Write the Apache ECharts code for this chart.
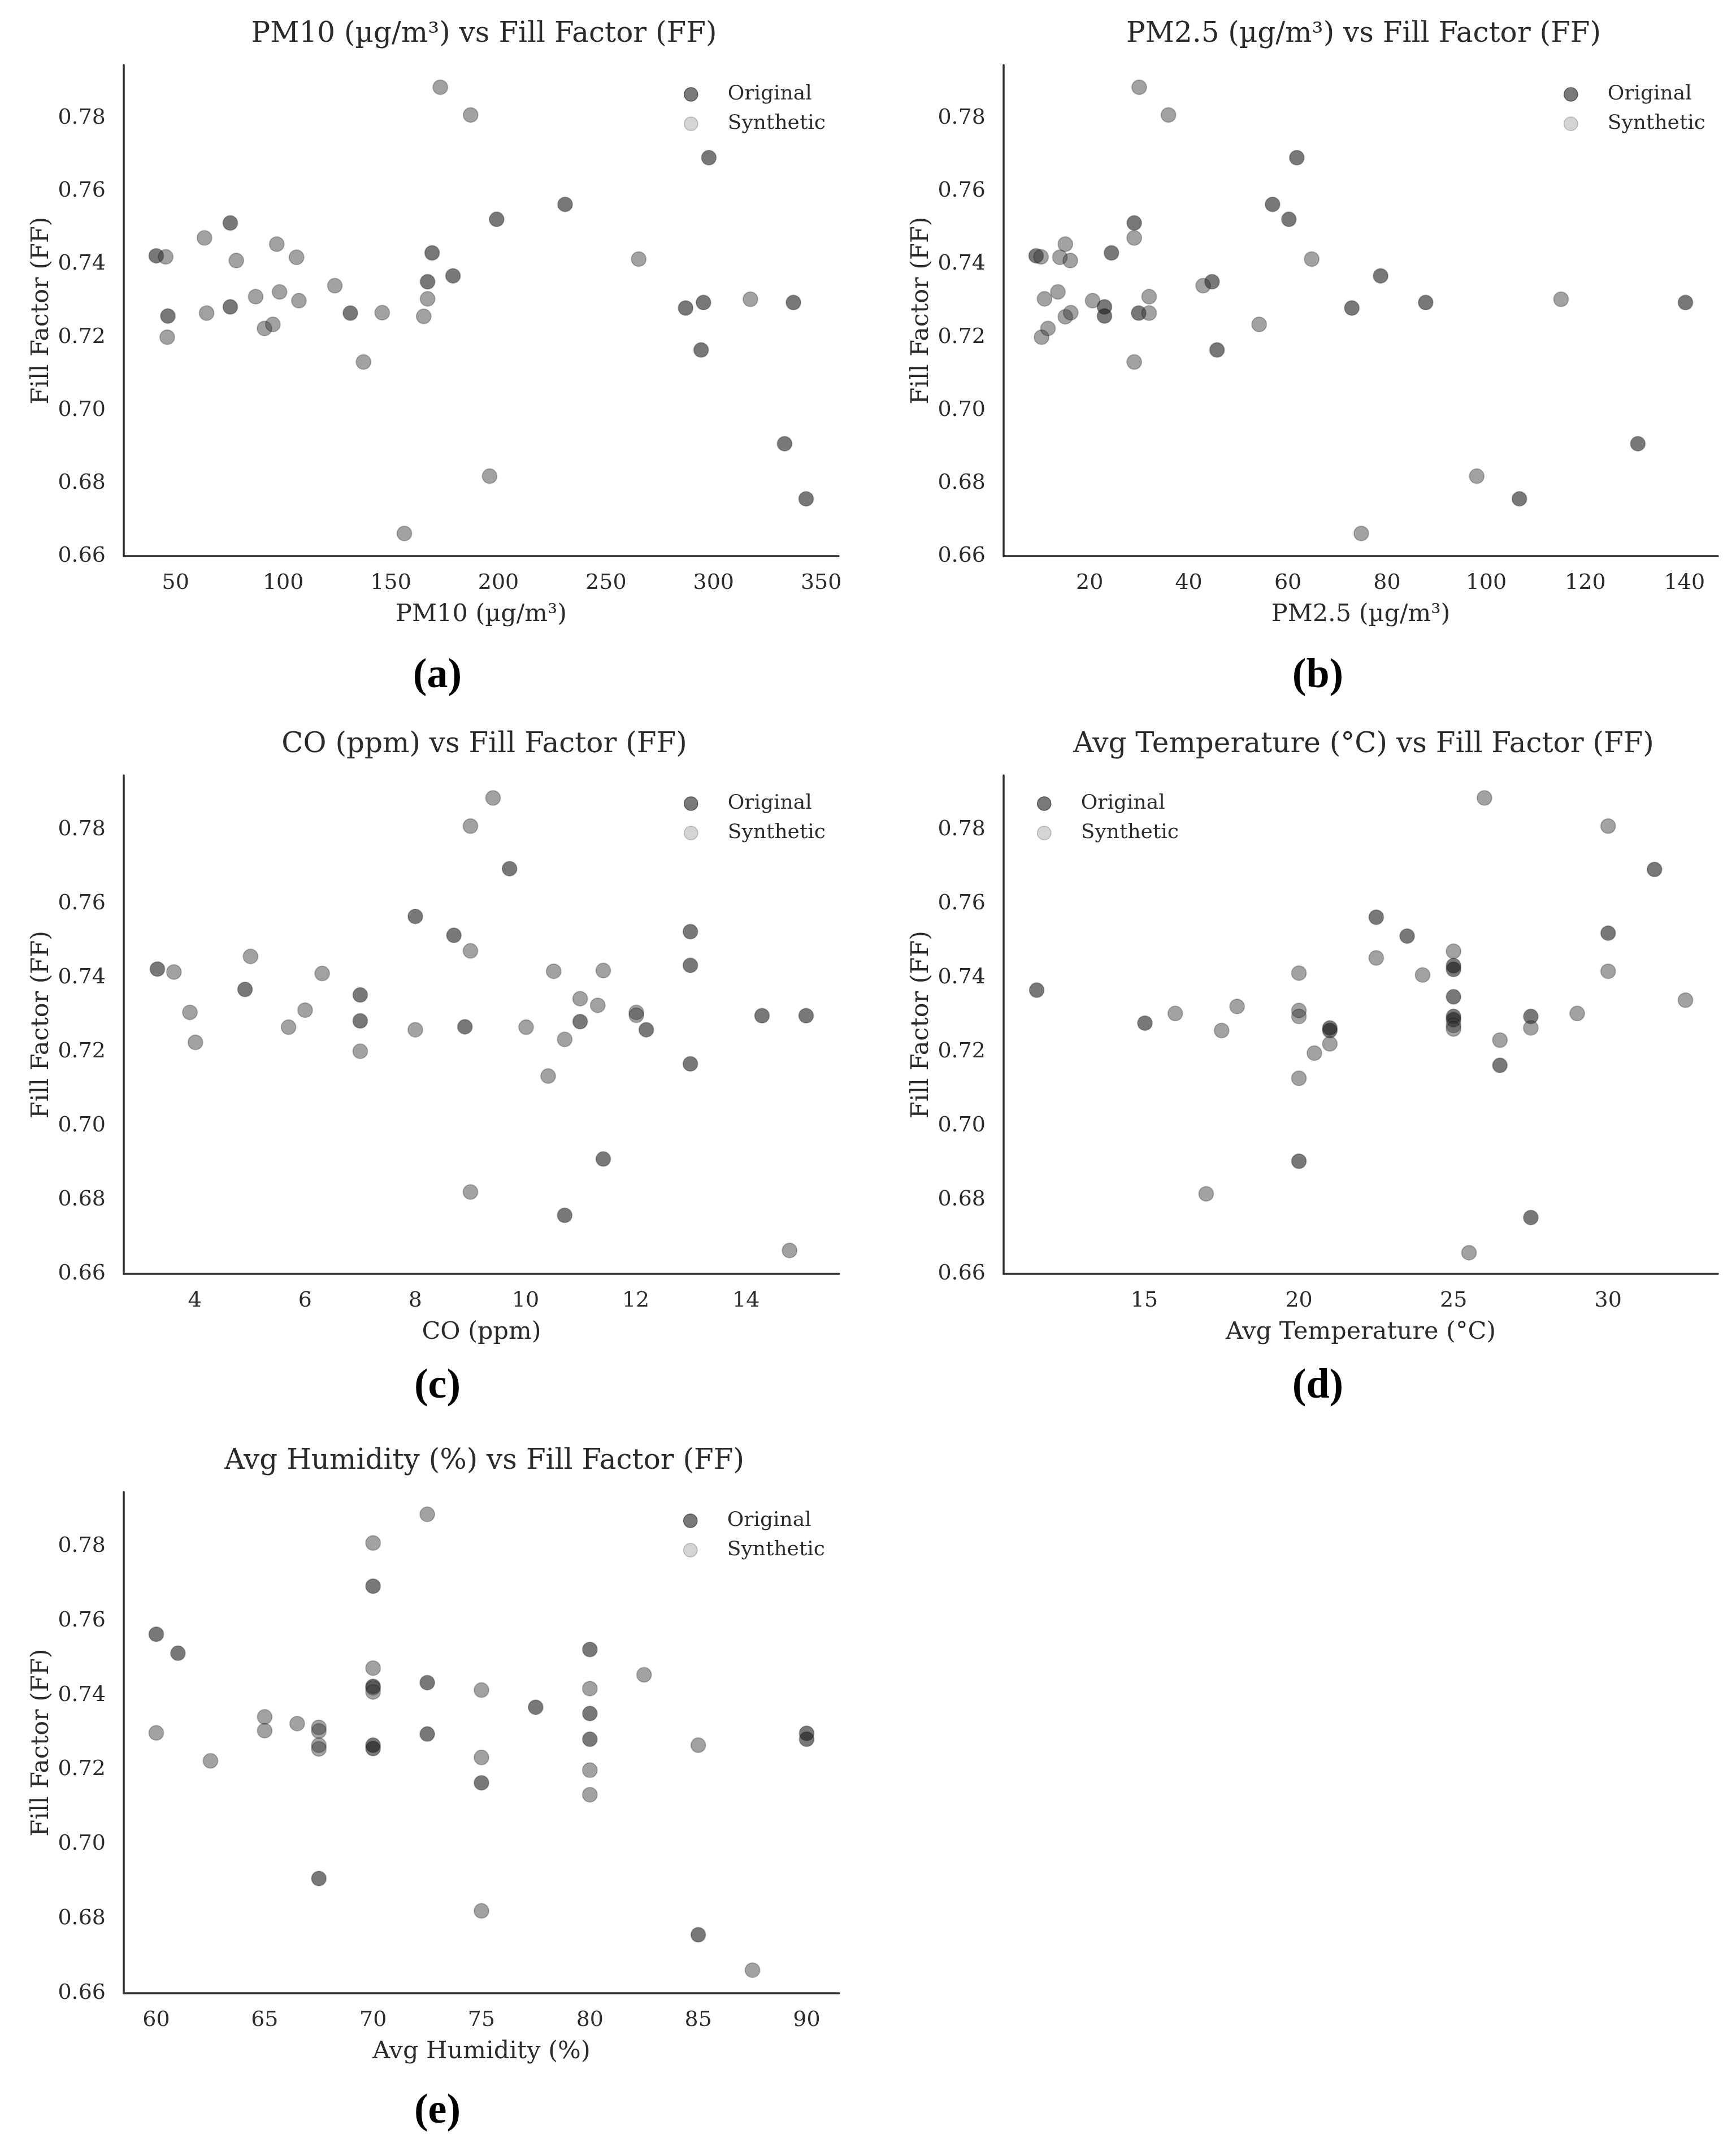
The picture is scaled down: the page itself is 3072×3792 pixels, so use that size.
<!DOCTYPE html>
<html>
<head>
<meta charset="utf-8">
<title>Fill Factor vs environmental variables</title>
<script src="https://cdn.jsdelivr.net/npm/echarts@6.0.0/dist/echarts.min.js"></script>
<style>
html,body{margin:0;padding:0;background:#fff;}
#main{width:3072px;height:3792px;}
</style>
</head>
<body>
<div id="main"></div>
<script>
var FONT = "'DejaVu Serif', serif";
var TXT = '#2b2b2b';

// ---- data: [x, FF] ----
var pm10Original = [[41.0,0.7423],[46.4,0.7258],[75.4,0.7513],[75.4,0.7283],[131.2,0.7266],[167.1,0.7352],[169.2,0.7431],[178.9,0.7368],[199.2,0.7523],[231.0,0.7564],[297.8,0.7692],[287.0,0.7280],[295.3,0.7295],[294.2,0.7165],[337.1,0.7295],[333.0,0.6908],[343.0,0.6757]];
var pm10Synthetic = [[45.4,0.7420],[46.1,0.7200],[63.4,0.7472],[64.4,0.7266],[78.2,0.7410],[87.2,0.7311],[91.3,0.7224],[95.2,0.7235],[97.0,0.7455],[98.3,0.7324],[106.2,0.7419],[107.3,0.7300],[124.0,0.7341],[137.3,0.7132],[146.0,0.7267],[156.3,0.6662],[165.3,0.7257],[167.1,0.7305],[173.0,0.7885],[187.1,0.7809],[195.9,0.6819],[265.2,0.7414],[317.1,0.7304]];

var pm25Original = [[9.2,0.7423],[23.0,0.7283],[23.0,0.7258],[24.4,0.7431],[29.0,0.7513],[29.9,0.7266],[44.7,0.7352],[45.7,0.7165],[56.9,0.7564],[60.2,0.7523],[61.8,0.7692],[72.9,0.7280],[78.7,0.7368],[87.8,0.7295],[106.7,0.6757],[130.6,0.6908],[140.2,0.7295]];
var pm25Synthetic = [[10.2,0.7420],[10.3,0.7200],[10.9,0.7305],[11.6,0.7224],[13.6,0.7324],[14.0,0.7419],[15.1,0.7455],[15.1,0.7256],[16.1,0.7410],[16.2,0.7267],[20.6,0.7300],[29.0,0.7472],[29.0,0.7132],[30.0,0.7885],[32.0,0.7311],[32.0,0.7266],[35.9,0.7809],[42.9,0.7341],[54.2,0.7235],[64.8,0.7414],[74.8,0.6662],[98.1,0.6819],[115.1,0.7304]];

var coOriginal = [[3.32,0.7423],[4.91,0.7368],[7.0,0.7353],[7.0,0.7283],[8.0,0.7565],[8.7,0.7514],[8.9,0.7267],[9.71,0.7694],[10.99,0.7281],[11.41,0.6910],[10.71,0.6758],[12.19,0.7259],[12.99,0.7524],[12.99,0.7433],[12.99,0.7167],[14.29,0.7297],[15.09,0.7297]];
var coSynthetic = [[3.62,0.7415],[3.91,0.7306],[4.01,0.7225],[5.01,0.7457],[5.7,0.7266],[6.0,0.7312],[6.31,0.7411],[7.0,0.7201],[8.0,0.7259],[9.0,0.7809],[9.0,0.7472],[9.41,0.7885],[9.0,0.6821],[10.01,0.7266],[10.51,0.7417],[10.71,0.7233],[10.41,0.7134],[10.99,0.7343],[11.31,0.7325],[11.41,0.7419],[12.01,0.7306],[12.01,0.7298],[14.79,0.6663]];

var tempOriginal = [[11.52,0.7366],[15.02,0.7277],[20.0,0.6904],[21.0,0.7264],[21.0,0.7257],[22.5,0.7563],[23.5,0.7512],[25.0,0.7432],[25.0,0.7422],[25.0,0.7348],[25.0,0.7295],[25.0,0.7286],[26.5,0.7163],[27.5,0.7295],[27.5,0.6752],[30.0,0.7520],[31.5,0.7692]];
var tempSynthetic = [[16.0,0.7303],[17.5,0.7257],[18.0,0.7322],[17.0,0.6816],[20.0,0.7412],[20.0,0.7311],[20.0,0.7295],[20.0,0.7128],[20.5,0.7196],[21.0,0.7221],[22.5,0.7453],[24.0,0.7407],[25.0,0.7471],[25.0,0.7271],[25.0,0.7261],[26.0,0.7885],[25.5,0.6657],[26.5,0.7231],[27.5,0.7264],[29.0,0.7303],[30.0,0.7809],[30.0,0.7417],[32.5,0.7339]];

var humOriginal = [[60.0,0.7564],[61.0,0.7513],[67.5,0.6908],[70.0,0.7693],[70.0,0.7424],[70.0,0.7266],[70.0,0.7257],[72.5,0.7434],[72.5,0.7296],[75.0,0.7165],[77.5,0.7368],[80.0,0.7523],[80.0,0.7351],[80.0,0.7282],[85.0,0.6757],[90.0,0.7298],[90.0,0.7282]];
var humSynthetic = [[60.0,0.7299],[62.5,0.7224],[65.0,0.7342],[65.0,0.7305],[66.5,0.7324],[67.5,0.7314],[67.5,0.7304],[67.5,0.7266],[67.5,0.7256],[70.0,0.7809],[70.0,0.7473],[70.0,0.7420],[70.0,0.7409],[72.5,0.7886],[75.0,0.7414],[75.0,0.7233],[75.0,0.6821],[80.0,0.7418],[80.0,0.7199],[80.0,0.7133],[82.5,0.7455],[85.0,0.7266],[87.5,0.6662]];

// ---- tick labels ----
var ffTicks = [0.66, 0.68, 0.70, 0.72, 0.74, 0.76, 0.78];
var pm10Ticks = [50, 100, 150, 200, 250, 300, 350];
var pm25Ticks = [20, 40, 60, 80, 100, 120, 140];
var coTicks = [4, 6, 8, 10, 12, 14];
var tempTicks = [15, 20, 25, 30];
var humTicks = [60, 65, 70, 75, 80, 85, 90];

// ---- layout of the five panels ----
var panels = [
  {title: 'PM10 (µg/m³) vs Fill Factor (FF)', xName: 'PM10 (µg/m³)', tag: '(a)',
   orig: pm10Original, syn: pm10Synthetic, xr: [25.9, 358.1], ticks: pm10Ticks,
   box: [219, 115, 1265, 869], leg: [1205, 142], tagPos: [769, 1155]},
  {title: 'PM2.5 (µg/m³) vs Fill Factor (FF)', xName: 'PM2.5 (µg/m³)', tag: '(b)',
   orig: pm25Original, syn: pm25Synthetic, xr: [2.65, 146.75], ticks: pm25Ticks,
   box: [1776, 115, 1264, 869], leg: [2762, 142], tagPos: [2327, 1155]},
  {title: 'CO (ppm) vs Fill Factor (FF)', xName: 'CO (ppm)', tag: '(c)',
   orig: coOriginal, syn: coSynthetic, xr: [2.71, 15.69], ticks: coTicks,
   box: [219, 1372, 1266, 882], leg: [1205, 1397], tagPos: [769, 2412]},
  {title: 'Avg Temperature (°C) vs Fill Factor (FF)', xName: 'Avg Temperature (°C)', tag: '(d)',
   orig: tempOriginal, syn: tempSynthetic, xr: [10.45, 33.55], ticks: tempTicks,
   box: [1776, 1372, 1264, 882], leg: [1830, 1397], tagPos: [2327, 2412]},
  {title: 'Avg Humidity (%) vs Fill Factor (FF)', xName: 'Avg Humidity (%)', tag: '(e)',
   orig: humOriginal, syn: humSynthetic, xr: [58.5, 91.5], ticks: humTicks,
   box: [219, 2640, 1266, 887], leg: [1204, 2666], tagPos: [769, 3695]}
];

var option = {
  backgroundColor: '#ffffff',
  animation: false,
  title: [], legend: [], grid: [], xAxis: [], yAxis: [], series: []
};

panels.forEach(function(p, i){
  var b = p.box;
  option.grid.push({left: b[0], top: b[1], width: b[2], height: b[3], containLabel: false});
  option.title.push({
    text: p.title, left: b[0] + b[2] / 2, top: b[1] - 84, textAlign: 'center',
    textStyle: {fontFamily: FONT, fontSize: 50, fontWeight: 'normal', color: TXT}
  });
  option.title.push({
    text: p.tag, left: p.tagPos[0], top: p.tagPos[1], textAlign: 'center',
    textStyle: {fontFamily: "'Liberation Serif', 'Times New Roman', serif", fontSize: 74, fontWeight: 'bold', color: '#000'}
  });
  option.legend.push({
    orient: 'vertical', left: p.leg[0], top: p.leg[1],
    itemWidth: 24, itemHeight: 24, itemGap: 12, icon: 'circle',
    textStyle: {fontFamily: FONT, fontSize: 36, color: TXT, lineHeight: 40, padding: [0, 0, 0, 48]},
    data: [
      {name: 'Original', itemStyle: {color: '#575757', borderColor: '#404040', borderWidth: 1.5}},
      {name: 'Synthetic', itemStyle: {color: '#c9c9c9', borderColor: '#a6a6a6', borderWidth: 1.5}}
    ]
  });
  option.xAxis.push({
    type: 'value', gridIndex: i, min: p.xr[0], max: p.xr[1],
    name: p.xName, nameLocation: 'middle', nameGap: 82,
    nameTextStyle: {fontFamily: FONT, fontSize: 43, color: TXT},
    axisLine: {show: true, onZero: false, lineStyle: {color: '#2e2e2e', width: 3.5}},
    axisTick: {show: false},
    splitLine: {show: false},
    axisLabel: {customValues: p.ticks, margin: 29, fontFamily: FONT, fontSize: 38, color: TXT}
  });
  option.yAxis.push({
    type: 'value', gridIndex: i, min: 0.66, max: 0.7946,
    name: 'Fill Factor (FF)', nameLocation: 'middle', nameGap: 124,
    nameTextStyle: {fontFamily: FONT, fontSize: 43, color: TXT},
    axisLine: {show: true, onZero: false, lineStyle: {color: '#2e2e2e', width: 3.5}},
    axisTick: {show: false},
    splitLine: {show: false},
    axisLabel: {customValues: ffTicks, margin: 32, fontFamily: FONT, fontSize: 38, color: TXT,
      formatter: function(v){ return v.toFixed(2); }}
  });
  option.series.push({
    name: 'Original', type: 'scatter', xAxisIndex: i, yAxisIndex: i,
    symbolSize: 26, data: p.orig,
    itemStyle: {color: 'rgba(20,20,20,0.72)', borderColor: 'rgba(0,0,0,0.28)', borderWidth: 2}
  });
  option.series.push({
    name: 'Synthetic', type: 'scatter', xAxisIndex: i, yAxisIndex: i,
    symbolSize: 26, data: p.syn,
    itemStyle: {color: 'rgba(55,55,55,0.58)', borderColor: 'rgba(0,0,0,0.28)', borderWidth: 2}
  });
});

var myChart = echarts.init(document.getElementById('main'), null, {renderer: 'canvas'});
myChart.setOption(option);
</script>
</body>
</html>
